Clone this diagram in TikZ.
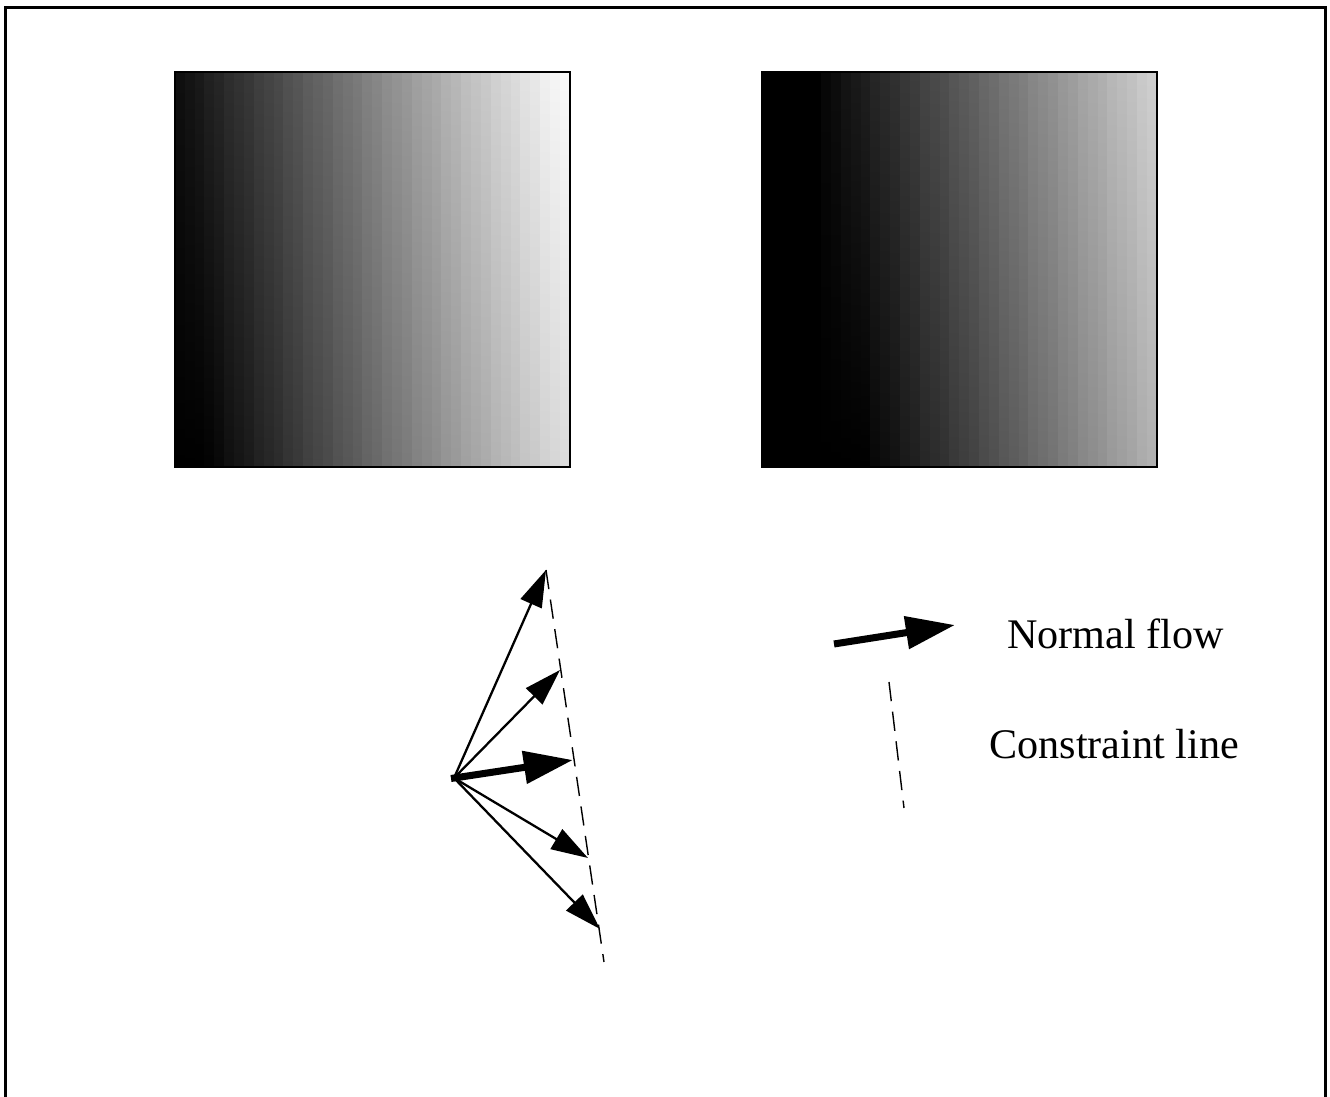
\documentclass[tikz,border=0pt]{standalone}
\usepackage{fontspec}
\setmainfont{Liberation Serif}
\usetikzlibrary{arrows.meta}

\tikzset{
  flow/.style={line width=1.3pt, -{Triangle[length=21pt,width=13pt]}},
  normalflow/.style={line width=4pt, -{Triangle[length=28pt,width=18pt]}},
  constraint/.style={line width=0.8pt, dash pattern=on 11pt off 6pt},
  legendtext/.style={font=\fontsize{24}{28}\selectfont, anchor=base west, inner sep=0pt},
}

\begin{document}
\begin{tikzpicture}[x=0.02cm, y=-0.02cm]
        \useasboundingbox (0,0) rectangle (1330,1097);
        \draw[line width=1.7pt] (5.5,1097) -- (5.5,7.5) -- (1325.5,7.5) -- (1325.5,1097);

        % first frame
        \foreach \k in {0,...,39} {
            \pgfmathsetmacro{\u}{(\k+0.5)/40}
            \pgfmathtruncatemacro{\gt}{100*max(0,min(1,0.05+0.95*\u))}
            \pgfmathtruncatemacro{\gb}{100*max(0,min(1,-0.07+0.95*\u))}
            \shade[top color=white!\gt!black, bottom color=white!\gb!black]
                ({175+9.875*\k},72) rectangle ({175+9.875*\k+10.4},467);
        }
        \draw[line width=1.1pt] (175,72) rectangle (570,467);

        % second frame, pattern moved to the right
        \foreach \k in {0,...,39} {
            \pgfmathsetmacro{\u}{(\k+0.5)/40}
            \pgfmathtruncatemacro{\gt}{100*max(0,min(1,-0.121+0.95*\u))}
            \pgfmathtruncatemacro{\gb}{100*max(0,min(1,-0.241+0.95*\u))}
            \shade[top color=white!\gt!black, bottom color=white!\gb!black]
                ({762+9.875*\k},72) rectangle ({762+9.875*\k+10.4},467);
        }
        \draw[line width=1.1pt] (762,72) rectangle (1157,467);

        % flow vectors
        \coordinate (origin) at (454,778);
        \coordinate (tail) at (451,778.5);
        \coordinate (tip1) at (546,570);
        \coordinate (tip2) at (560,670);
        \coordinate (tip3) at (573,760);
        \coordinate (tip4) at (588,858);
        \coordinate (tip5) at (600,929);
        \coordinate (lineend) at (604,962);

        \draw[constraint] (tip1) -- (lineend);
        \draw[flow] (origin) -- (tip1);
        \draw[flow] (origin) -- (tip2);
        \draw[normalflow] (tail) -- (tip3);
        \draw[flow] (origin) -- (tip4);
        \draw[flow] (origin) -- (tip5);

        % legend
        \coordinate (keytail) at (834,644);
        \coordinate (keytip) at (955,625);
        \draw[normalflow] (keytail) -- (keytip);
        \node[legendtext] (flowlabel) at (1007,649) {Normal flow};

        \coordinate (keytop) at (889,682);
        \coordinate (keybottom) at (904,808);
        \draw[constraint] (keytop) -- (keybottom);
        \node[legendtext] (linelabel) at (989,759) {Constraint line};
\end{tikzpicture}
\end{document}
